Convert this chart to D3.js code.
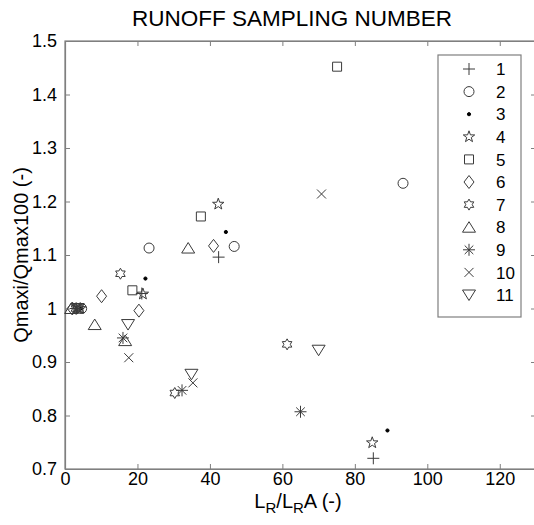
<!DOCTYPE html>
<html><head><meta charset="utf-8">
<script src="https://cdn.jsdelivr.net/npm/d3@7"></script>
<style>
html,body{margin:0;padding:0;background:#fff;}
svg{display:block;font-family:Arial,"Liberation Sans",sans-serif;}
</style></head>
<body>
<svg id="chart" width="534" height="525"></svg>
<script>
// ---- data ----
const seriesNames = ["1","2","3","4","5","6","7","8","9","10","11"];
const markerTypes = ["plus","circle","dot","pentagram","square","diamond","hexagram","triangleUp","asterisk","cross","triangleDown"];
const x1 = [3.0, 21.2, 42.4, 85.1],  y1 = [1.0, 1.028, 1.096, 0.720];
const x2 = [4.6, 23.2, 46.7, 93.3],  y2 = [1.0, 1.113, 1.116, 1.234];
const x3 = [4.4, 22.2, 44.4, 89.0],  y3 = [1.0, 1.056, 1.143, 0.772];
const x4 = [4.2, 21.5, 42.3, 84.8],  y4 = [1.0, 1.027, 1.195, 0.749];
const x5 = [3.7, 18.6, 37.5, 75.1],  y5 = [1.0, 1.034, 1.172, 1.452];
const x6 = [2.0, 10.1, 20.4, 41.0],  y6 = [1.0, 1.023, 0.996, 1.117];
const x7 = [3.0, 15.3, 30.3, 61.3],  y7 = [1.0, 1.065, 0.842, 0.933];
const x8 = [1.7, 8.2, 16.6, 34.0],   y8 = [1.0, 0.970, 0.940, 1.113];
const x9 = [3.2, 16.0, 32.3, 65.0],  y9 = [1.0, 0.945, 0.847, 0.807];
const x10 = [3.5, 17.6, 35.3, 70.8], y10 = [1.0, 0.908, 0.861, 1.214];
const x11 = [3.5, 17.4, 34.9, 70.0], y11 = [1.0, 0.970, 0.877, 0.922];
const xs = [x1,x2,x3,x4,x5,x6,x7,x8,x9,x10,x11];
const ys = [y1,y2,y3,y4,y5,y6,y7,y8,y9,y10,y11];
const xTicks = [0,20,40,60,80,100,120];
const yTicks = [0.7,0.8,0.9,1.0,1.1,1.2,1.3,1.4,1.5];

// ---- layout ----
const L = 65, R = 536, T = 41, B = 469;
const svg = d3.select("#chart");
const x = d3.scaleLinear().domain([0,130]).range([L,R]);
const y = d3.scaleLinear().domain([0.7,1.5]).range([B,T]);
const axisCol = "#7f7f7f", markCol = "#3a3a3a";

// frame
svg.append("rect").attr("x",L).attr("y",T).attr("width",R-L).attr("height",B-T)
  .attr("fill","none").attr("stroke",axisCol).attr("stroke-width",1.2);

// axes with inward ticks
const fmtY = d => (Math.abs(d-1)<1e-9 ? "1" : d3.format(".1f")(d));
const gx = svg.append("g").attr("transform",`translate(0,${B})`)
  .call(d3.axisBottom(x).tickValues(xTicks).tickSizeInner(-5).tickSizeOuter(0).tickPadding(3));
const gxt = svg.append("g").attr("transform",`translate(0,${T})`)
  .call(d3.axisTop(x).tickValues(xTicks).tickSizeInner(-5).tickSizeOuter(0).tickFormat(""));
const gy = svg.append("g").attr("transform",`translate(${L},0)`)
  .call(d3.axisLeft(y).tickValues(yTicks).tickSizeInner(-5).tickSizeOuter(0).tickPadding(8).tickFormat(fmtY));
const gyr = svg.append("g").attr("transform",`translate(${R},0)`)
  .call(d3.axisRight(y).tickValues(yTicks).tickSizeInner(-5).tickSizeOuter(0).tickFormat(""));
[gx,gxt,gy,gyr].forEach(g=>{
  g.select(".domain").attr("stroke",axisCol).attr("stroke-width",1.2);
  g.selectAll(".tick line").attr("stroke",axisCol);
  g.selectAll(".tick text").attr("fill","#000").style("font-size","18px").style("font-family","Arial,'Liberation Sans',sans-serif");
});

// ---- markers ----
function markerPath(type){
  const p = d3.path();
  switch(type){
    case "plus": p.moveTo(-6,0);p.lineTo(6,0);p.moveTo(0,-6);p.lineTo(0,6);break;
    case "circle": p.arc(0,0,5,0,2*Math.PI);p.closePath();break;
    case "dot": p.arc(0,0,1.6,0,2*Math.PI);p.closePath();break;
    case "pentagram": {
      const ro=6, ri=2.4;
      for(let i=0;i<10;i++){const r=i%2?ri:ro;const a=-Math.PI/2+i*Math.PI/5;
        const px=r*Math.cos(a), py=r*Math.sin(a); if(i===0)p.moveTo(px,py); else p.lineTo(px,py);}
      p.closePath();break;}
    case "square": p.rect(-4.5,-4.5,9,9);break;
    case "diamond": p.moveTo(0,-6.5);p.lineTo(5,0);p.lineTo(0,6.5);p.lineTo(-5,0);p.closePath();break;
    case "hexagram": {
      const ro=5.5, ri=ro/Math.sqrt(3);
      for(let i=0;i<12;i++){const r=i%2?ri:ro;const a=-Math.PI/2+i*Math.PI/6;
        const px=r*Math.cos(a), py=r*Math.sin(a); if(i===0)p.moveTo(px,py); else p.lineTo(px,py);}
      p.closePath();break;}
    case "triangleUp": p.moveTo(0,-5.5);p.lineTo(6.5,5);p.lineTo(-6.5,5);p.closePath();break;
    case "triangleDown": p.moveTo(0,5.5);p.lineTo(6.5,-5);p.lineTo(-6.5,-5);p.closePath();break;
    case "asterisk": p.moveTo(-6,0);p.lineTo(6,0);p.moveTo(0,-6);p.lineTo(0,6);
      p.moveTo(-4.3,-4.3);p.lineTo(4.3,4.3);p.moveTo(-4.3,4.3);p.lineTo(4.3,-4.3);break;
    case "cross": p.moveTo(-4.5,-4.5);p.lineTo(4.5,4.5);p.moveTo(-4.5,4.5);p.lineTo(4.5,-4.5);break;
  }
  return p.toString();
}
function drawMarker(g, type, cx, cy){
  g.append("path").attr("d",markerPath(type)).attr("transform",`translate(${cx},${cy})`)
    .attr("fill", type==="dot" ? "#000" : "none")
    .attr("stroke", type==="dot" ? "#000" : markCol).attr("stroke-width",1);
}
const plotG = svg.append("g");
seriesNames.forEach((name,i)=>{
  const pts = xs[i].map((xv,j)=>({x:xv,y:ys[i][j]}));
  const g = plotG.append("g").attr("class","series s"+name);
  pts.forEach(d=>drawMarker(g, markerTypes[i], x(d.x), y(d.y)));
});

// ---- legend ----
const lg = svg.append("g");
lg.append("rect").attr("x",438).attr("y",55).attr("width",83).attr("height",262)
  .attr("fill","#fff").attr("stroke",axisCol).attr("stroke-width",1.2);
seriesNames.forEach((name,i)=>{
  const cy = 69 + i*22.6;
  drawMarker(lg, markerTypes[i], 469, cy);
  lg.append("text").attr("x",496).attr("y",cy).attr("dy","0.36em")
    .style("font-size","17px").attr("fill","#000").text(name);
});

// ---- titles ----
svg.append("text").attr("x",292).attr("y",26).attr("text-anchor","middle")
  .style("font-size","22.5px").attr("fill","#000").text("RUNOFF SAMPLING NUMBER");
const xl = svg.append("text").attr("x",298).attr("y",508).attr("text-anchor","middle")
  .style("font-size","20px").attr("fill","#000");
xl.append("tspan").text("L");
xl.append("tspan").attr("baseline-shift","-30%").style("font-size","15px").text("R");
xl.append("tspan").text("/L");
xl.append("tspan").attr("baseline-shift","-30%").style("font-size","15px").text("R");
xl.append("tspan").text("A (-)");
svg.append("text").attr("transform",`translate(28,${(T+B)/2}) rotate(-90)`).attr("text-anchor","middle")
  .style("font-size","20px").attr("fill","#000").text("Qmaxi/Qmax100 (-)");
</script>
</body></html>
